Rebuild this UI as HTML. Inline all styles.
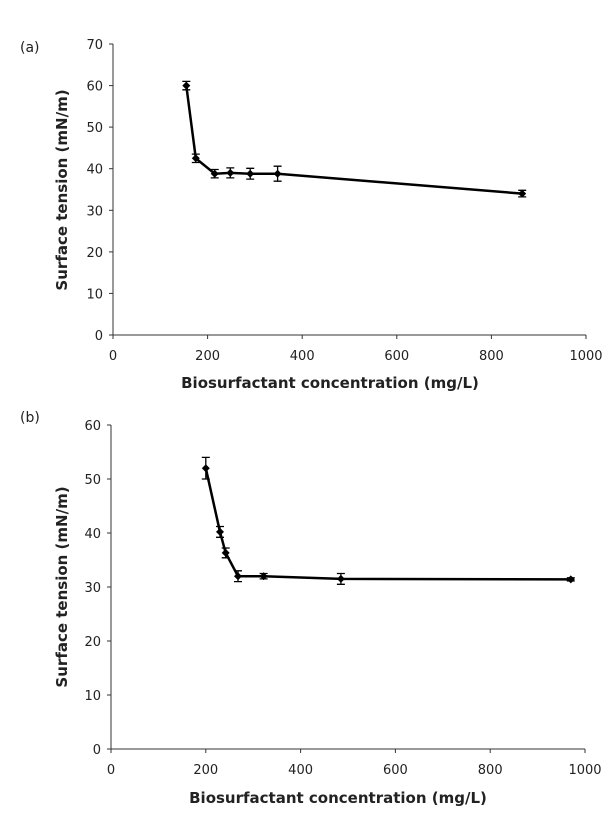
<!DOCTYPE html>
<html><head><style>body{margin:0;background:#fff}svg{display:block}text{font-family:"DejaVu Sans","Liberation Sans",sans-serif;fill:#222}</style></head>
<body>
<svg width="611" height="823" viewBox="0 0 611 823" xmlns="http://www.w3.org/2000/svg">
<g id="a">
<text x="20" y="52" font-size="14">(a)</text>
<line x1="113" y1="44" x2="113" y2="335" stroke="#333" stroke-width="1"/>
<line x1="113" y1="335" x2="586" y2="335" stroke="#333" stroke-width="1"/>
<g stroke="#333"><line x1="109" y1="44" x2="113" y2="44"/><line x1="109" y1="85.6" x2="113" y2="85.6"/><line x1="109" y1="127.1" x2="113" y2="127.1"/><line x1="109" y1="168.7" x2="113" y2="168.7"/><line x1="109" y1="210.3" x2="113" y2="210.3"/><line x1="109" y1="251.9" x2="113" y2="251.9"/><line x1="109" y1="293.4" x2="113" y2="293.4"/><line x1="109" y1="335" x2="113" y2="335"/>
<line x1="113" y1="335" x2="113" y2="339"/><line x1="207.6" y1="335" x2="207.6" y2="339"/><line x1="302.2" y1="335" x2="302.2" y2="339"/><line x1="396.8" y1="335" x2="396.8" y2="339"/><line x1="491.4" y1="335" x2="491.4" y2="339"/><line x1="586" y1="335" x2="586" y2="339"/></g>
<g font-size="13" text-anchor="end"><text x="103" y="49">70</text><text x="103" y="90.6">60</text><text x="103" y="132.1">50</text><text x="103" y="173.7">40</text><text x="103" y="215.3">30</text><text x="103" y="256.9">20</text><text x="103" y="298.4">10</text><text x="103" y="340">0</text></g>
<g font-size="13" text-anchor="middle"><text x="113" y="360">0</text><text x="207.6" y="360">200</text><text x="302.2" y="360">400</text><text x="396.8" y="360">600</text><text x="491.4" y="360">800</text><text x="586" y="360">1000</text></g>
<text x="330" y="388" font-size="15" font-weight="bold" text-anchor="middle">Biosurfactant concentration (mg/L)</text>
<text transform="translate(67,190) rotate(-90)" font-size="15" font-weight="bold" text-anchor="middle">Surface tension (mN/m)</text>
<polyline fill="none" stroke="#000" stroke-width="2.5" points="186.3,85.6 195.8,158.3 214.7,173.7 230.3,172.9 250.2,173.7 277.6,173.7 522.2,193.6"/>
<g stroke="#000" stroke-width="1.3">
<path d="M186.3,81.4V89.8M182.3,81.4h8M182.3,89.8h8"/>
<path d="M195.8,154.1V162.5M191.8,154.1h8M191.8,162.5h8"/>
<path d="M214.7,169.5V177.9M210.7,169.5h8M210.7,177.9h8"/>
<path d="M230.3,167.9V177.9M226.3,167.9h8M226.3,177.9h8"/>
<path d="M250.2,168.3V179.1M246.2,168.3h8M246.2,179.1h8"/>
<path d="M277.6,166.2V181.2M273.6,166.2h8M273.6,181.2h8"/>
<path d="M522.2,190.3V196.9M518.2,190.3h8M518.2,196.9h8"/>
</g>
<g fill="#000"><path d="M186.3,81.6l4,4-4,4-4-4z"/><path d="M195.8,154.3l4,4-4,4-4-4z"/><path d="M214.7,169.7l4,4-4,4-4-4z"/><path d="M230.3,168.9l4,4-4,4-4-4z"/><path d="M250.2,169.7l4,4-4,4-4-4z"/><path d="M277.6,169.7l4,4-4,4-4-4z"/><path d="M522.2,189.6l4,4-4,4-4-4z"/></g>
</g>
<g id="b">
<text x="20" y="422" font-size="14">(b)</text>
<line x1="111" y1="425" x2="111" y2="749" stroke="#333"/>
<line x1="111" y1="749" x2="585" y2="749" stroke="#333"/>
<g stroke="#333"><line x1="107" y1="425" x2="111" y2="425"/><line x1="107" y1="479" x2="111" y2="479"/><line x1="107" y1="533" x2="111" y2="533"/><line x1="107" y1="587" x2="111" y2="587"/><line x1="107" y1="641" x2="111" y2="641"/><line x1="107" y1="695" x2="111" y2="695"/><line x1="107" y1="749" x2="111" y2="749"/>
<line x1="111" y1="749" x2="111" y2="753"/><line x1="205.8" y1="749" x2="205.8" y2="753"/><line x1="300.6" y1="749" x2="300.6" y2="753"/><line x1="395.4" y1="749" x2="395.4" y2="753"/><line x1="490.2" y1="749" x2="490.2" y2="753"/><line x1="585" y1="749" x2="585" y2="753"/></g>
<g font-size="13" text-anchor="end"><text x="101" y="430">60</text><text x="101" y="484">50</text><text x="101" y="538">40</text><text x="101" y="592">30</text><text x="101" y="646">20</text><text x="101" y="700">10</text><text x="101" y="754">0</text></g>
<g font-size="13" text-anchor="middle"><text x="111" y="774">0</text><text x="205.8" y="774">200</text><text x="300.6" y="774">400</text><text x="395.4" y="774">600</text><text x="490.2" y="774">800</text><text x="585" y="774">1000</text></g>
<text x="338" y="803" font-size="15" font-weight="bold" text-anchor="middle">Biosurfactant concentration (mg/L)</text>
<text transform="translate(67,587) rotate(-90)" font-size="15" font-weight="bold" text-anchor="middle">Surface tension (mN/m)</text>
<polyline fill="none" stroke="#000" stroke-width="2.5" points="205.8,468.2 220,531.9 225.7,552.9 238,576.2 263.6,576.2 340.9,578.9 570.8,579.4"/>
<g stroke="#000" stroke-width="1.3">
<path d="M205.8,457.4V479M201.8,457.4h8M201.8,479h8"/>
<path d="M220,526.5V537.3M216,526.5h8M216,537.3h8"/>
<path d="M225.7,548V557.8M221.7,548h8M221.7,557.8h8"/>
<path d="M238,570.8V581.6M234,570.8h8M234,581.6h8"/>
<path d="M263.6,573.5V578.9M259.6,573.5h8M259.6,578.9h8"/>
<path d="M340.9,573.5V584.3M336.9,573.5h8M336.9,584.3h8"/>
<path d="M570.8,577.8V581M566.8,577.8h8M566.8,581h8"/>
</g>
<g fill="#000"><path d="M205.8,464.2l4,4-4,4-4-4z"/><path d="M220,527.9l4,4-4,4-4-4z"/><path d="M225.7,548.9l4,4-4,4-4-4z"/><path d="M238,572.2l4,4-4,4-4-4z"/><path d="M263.6,572.2l4,4-4,4-4-4z"/><path d="M340.9,574.9l4,4-4,4-4-4z"/><path d="M570.8,575.4l4,4-4,4-4-4z"/></g>
</g>
</svg>
</body></html>
